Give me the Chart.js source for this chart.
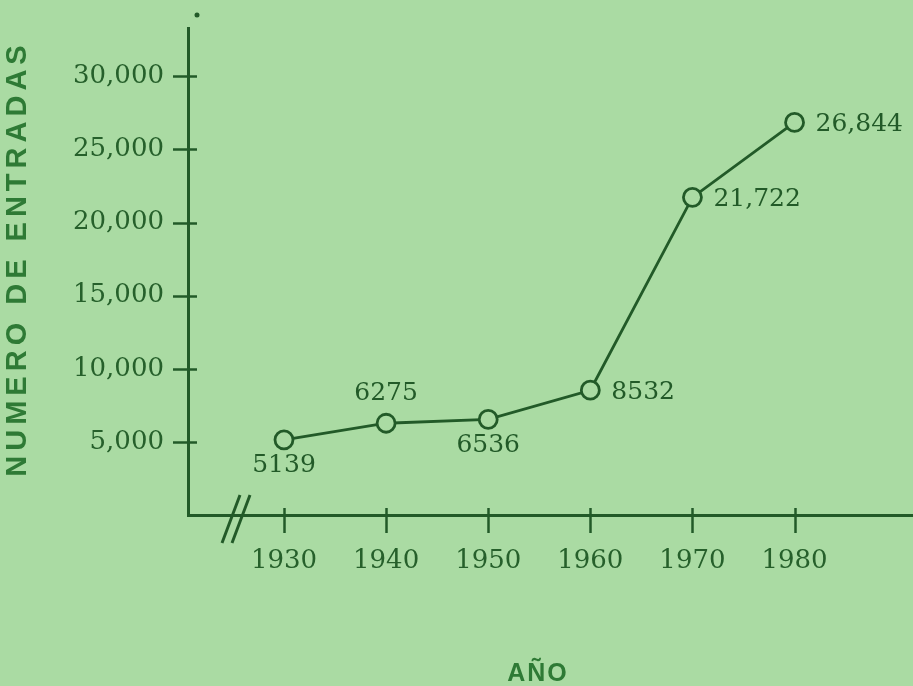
<!DOCTYPE html>
<html>
<head>
<meta charset="utf-8">
<script src="https://cdn.jsdelivr.net/npm/chart.js@4.4.1/dist/chart.umd.min.js"></script>
<style>
  html, body { margin: 0; padding: 0; background: #aadba3; }
  #wrap { position: relative; width: 913px; height: 686px; }
  canvas { display: block; }
</style>
</head>
<body>
<div id="wrap"><canvas id="c" width="913" height="686"></canvas></div>
<script>
// ---- data ----
const years = [1930, 1940, 1950, 1960, 1970, 1980];
const entries = [5139, 6275, 6536, 8532, 21722, 26844];
const pointLabels = ['5139', '6275', '6536', '8532', '21,722', '26,844'];
const yTickValues = [5000, 10000, 15000, 20000, 25000, 30000];
const yTickLabels = ['5,000', '10,000', '15,000', '20,000', '25,000', '30,000'];
const xTickValues = [1930, 1940, 1950, 1960, 1970, 1980];
const xTickLabels = ['1930', '1940', '1950', '1960', '1970', '1980'];
const yTitle = 'NUMERO DE ENTRADAS';
const xTitle = 'AÑO';

// ---- style ----
const BG = '#aadba3';
const INK = '#225a28';
const TEXT = '#26602b';
const TITLE = '#2e7a35';
const SERIF = '"DejaVu Serif", serif';
const SANS = '"Liberation Sans", Arial, sans-serif';

const labelPlacement = ['below', 'above', 'below', 'right', 'right', 'right'];

function noPad(scale) {
  scale.paddingTop = 0; scale.paddingBottom = 0;
  scale.paddingLeft = 0; scale.paddingRight = 0;
}

const decorPlugin = {
  id: 'decor',
  afterDraw(chart) {
    const ctx = chart.ctx;
    const xs = chart.scales.x, ys = chart.scales.y;
    const area = chart.chartArea;
    ctx.save();
    ctx.strokeStyle = INK;
    ctx.lineWidth = 2.5;
    ctx.lineCap = 'butt';
    // crossing tick marks on y axis
    yTickValues.forEach(v => {
      const py = Math.round(ys.getPixelForValue(v)) + 0.5;
      ctx.beginPath();
      ctx.moveTo(area.left - 15, py);
      ctx.lineTo(area.left + 9, py);
      ctx.stroke();
    });
    // crossing tick marks on x axis
    xTickValues.forEach(v => {
      const px = Math.round(xs.getPixelForValue(v)) + 0.5;
      ctx.beginPath();
      ctx.moveTo(px, area.bottom - 7);
      ctx.lineTo(px, area.bottom + 18);
      ctx.stroke();
    });
    // axis break mark //
    ctx.lineWidth = 3;
    [0, 10].forEach(off => {
      ctx.beginPath();
      ctx.moveTo(area.left + 34 + off, area.bottom + 28);
      ctx.lineTo(area.left + 52 + off, area.bottom - 20);
      ctx.stroke();
    });
    // small dot above axis
    ctx.fillStyle = INK;
    ctx.beginPath();
    ctx.arc(area.left + 9, 15, 2.5, 0, Math.PI * 2);
    ctx.fill();

    // point labels
    const meta = chart.getDatasetMeta(0);
    ctx.fillStyle = INK;
    ctx.font = '25px ' + SERIF;
    ctx.textBaseline = 'middle';
    meta.data.forEach((pt, i) => {
      const p = labelPlacement[i];
      if (p === 'below') {
        ctx.textAlign = 'center';
        ctx.fillText(pointLabels[i], pt.x, pt.y + 26);
      } else if (p === 'above') {
        ctx.textAlign = 'center';
        ctx.fillText(pointLabels[i], pt.x, pt.y - 30);
      } else {
        ctx.textAlign = 'left';
        ctx.fillText(pointLabels[i], pt.x + 21, pt.y + 2);
      }
    });

    // axis titles
    ctx.fillStyle = TITLE;
    ctx.textBaseline = 'middle';
    ctx.textAlign = 'center';
    ctx.font = 'bold 29px ' + SANS;
    ctx.letterSpacing = '5px';
    ctx.save();
    ctx.translate(18, 261);
    ctx.rotate(-Math.PI / 2);
    ctx.fillText(yTitle, 2.5, 0);
    ctx.restore();
    ctx.font = 'bold 25px ' + SANS;
    ctx.letterSpacing = '2px';
    ctx.fillText(xTitle, 538, 674);
    ctx.letterSpacing = '0px';
    ctx.restore();
  }
};

new Chart(document.getElementById('c'), {
  type: 'line',
  data: {
    datasets: [{
      data: years.map((y, i) => ({ x: y, y: entries[i] })),
      borderColor: INK,
      borderWidth: 2.8,
      tension: 0,
      pointRadius: 9,
      pointBorderWidth: 2.8,
      pointBackgroundColor: BG,
      pointBorderColor: INK,
      clip: false
    }]
  },
  options: {
    responsive: false,
    animation: false,
    devicePixelRatio: 1,
    layout: { autoPadding: false, padding: { top: 28, left: 0, right: 0, bottom: 0 } },
    plugins: { legend: { display: false }, tooltip: { enabled: false } },
    scales: {
      x: {
        type: 'linear',
        min: 1920.6,
        max: 1991.6,
        afterBuildTicks(scale) { scale.ticks = xTickValues.map(v => ({ value: v })); },
        afterFit(scale) { scale.height = 171; noPad(scale); },
        grid: { display: false, drawTicks: false },
        border: { display: true, color: INK, width: 3 },
        ticks: {
          padding: 31,
          color: TEXT,
          font: { family: SERIF, size: 26 },
          maxRotation: 0,
          autoSkip: false,
          callback: (v) => { const i = xTickValues.indexOf(v); return i >= 0 ? xTickLabels[i] : ''; }
        }
      },
      y: {
        type: 'linear',
        min: 0,
        max: 33300,
        afterBuildTicks(scale) { scale.ticks = yTickValues.map(v => ({ value: v })); },
        afterFit(scale) { scale.width = 188; noPad(scale); },
        grid: { display: false, drawTicks: false },
        border: { display: true, color: INK, width: 3 },
        ticks: {
          padding: 24,
          color: TEXT,
          font: { family: SERIF, size: 26 },
          autoSkip: false,
          callback: (v) => { const i = yTickValues.indexOf(v); return i >= 0 ? yTickLabels[i] : ''; }
        }
      }
    }
  },
  plugins: [decorPlugin]
});
</script>
</body>
</html>
